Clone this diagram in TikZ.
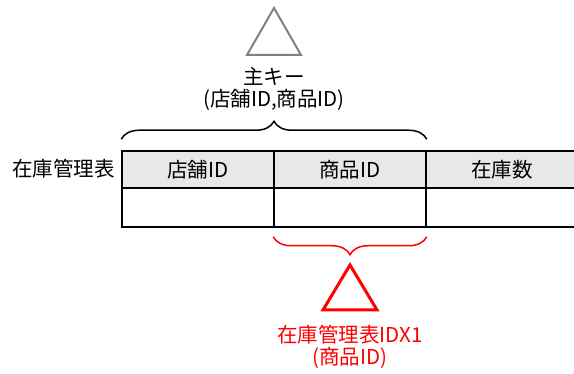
\documentclass[tikz,border=0pt]{standalone}
\usepackage{fontspec}
\setmainfont{Noto Sans CJK JP}
\usetikzlibrary{decorations.pathreplacing}
\definecolor{headgray}{HTML}{E8E8E8}
\definecolor{keygray}{HTML}{808080}

\begin{document}
\begin{tikzpicture}[x=1pt, y=1pt]
    \tikzstyle{every node}=[inner sep=0pt, font=\fontsize{20.5}{24}\selectfont]
    \tikzstyle{cell}=[draw, line width=1.5pt, minimum width=152pt]
    \tikzstyle{headcell}=[cell, fill=headgray, minimum height=37pt]
    \tikzstyle{datacell}=[cell, minimum height=39pt]
    \tikzstyle{bracket}=[decorate, decoration={brace, amplitude=18pt}, line width=1.5pt]
    \useasboundingbox (0,0) rectangle (574,374);
    % table
    \draw (198,204.5) node[headcell] (shop) {店舗ID};
    \draw (350,204.5) node[headcell] (item) {商品ID};
    \draw (502,204.5) node[headcell] (stock) {在庫数};
    \draw (198,166.5) node[datacell] (shopval) {};
    \draw (350,166.5) node[datacell] (itemval) {};
    \draw (502,166.5) node[datacell] (stockval) {};
    \draw (115,205) node[anchor=east] (tablename) {在庫管理表};
    % primary key
    \draw (274,298) node (pkey) {主キー};
    \draw (274,274) node (pkeycols) {(店舗ID,商品ID)};
    \draw[keygray, line width=2pt, line join=miter] (247,319) -- (274,366) -- (301,319) -- cycle;
    \draw[bracket] ([yshift=11pt]shop.north west) -- ([yshift=11pt]item.north east);
    % index
    \draw[red, bracket] ([yshift=-9pt]itemval.south east) -- ([yshift=-9pt]itemval.south west);
    \draw[red, line width=3pt, line join=miter] (323,64) -- (350,109) -- (377,64) -- cycle;
    \draw (350,39) node[red] (idxname) {在庫管理表IDX1};
    \draw (350,16) node[red] (idxcols) {(商品ID)};
\end{tikzpicture}
\end{document}
